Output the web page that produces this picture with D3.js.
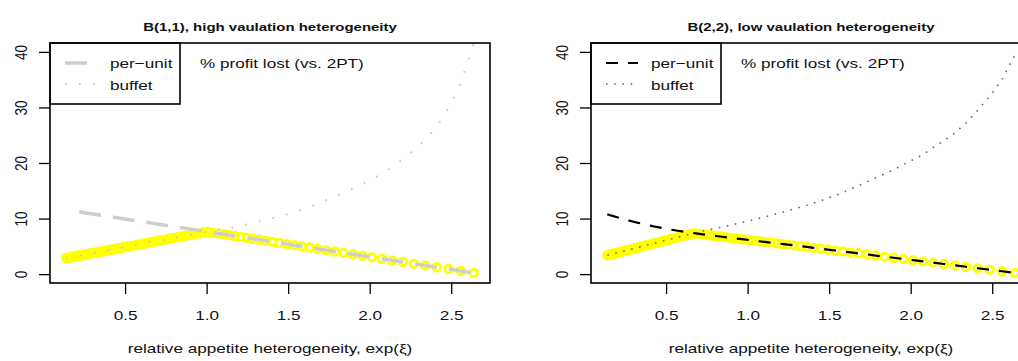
<!DOCTYPE html>
<html>
<head>
<meta charset="utf-8">
<script src="https://cdn.jsdelivr.net/npm/d3@7"></script>
<style>
  body { margin: 0; background: #fff; }
  text { font-family: "Liberation Sans", Arial, sans-serif; fill: #111; }
  .lbl { font-size: 13.5px; }
  .ttl { font-size: 11.8px; font-weight: bold; }
</style>
</head>
<body>
<div id="chart"></div>
<script>
// chart data
var titles = ["B(1,1), high vaulation heterogeneity", "B(2,2), low vaulation heterogeneity"];
var xLabel = "relative appetite heterogeneity, exp(\u03be)";
var legendNames = ["per\u2212unit", "buffet"];
var legendTitle = "% profit lost (vs. 2PT)";
var xTicks = [0.5, 1.0, 1.5, 2.0, 2.5];
var yTicks = [0, 10, 20, 30, 40];
var yLimits = [0, 40];

// relative appetite heterogeneity, exp(xi)
var xGrid = [
  0.1395,0.1437,0.1481,0.1526,0.1572,0.1620,0.1670,0.1720,0.1773,0.1827,
  0.1882,0.1940,0.1999,0.2060,0.2122,0.2187,0.2254,0.2322,0.2393,0.2466,
  0.2541,0.2618,0.2698,0.2780,0.2865,0.2952,0.3042,0.3135,0.3230,0.3329,
  0.3430,0.3535,0.3642,0.3753,0.3867,0.3985,0.4107,0.4232,0.4360,0.4493,
  0.4630,0.4771,0.4916,0.5066,0.5220,0.5379,0.5543,0.5712,0.5886,0.6065,
  0.6250,0.6440,0.6637,0.6839,0.7047,0.7261,0.7483,0.7711,0.7945,0.8187,
  0.8437,0.8694,0.8958,0.9231,0.9512,0.9802,1.0101,1.0408,1.0725,1.1052,
  1.1388,1.1735,1.2092,1.2461,1.2840,1.3231,1.3634,1.4049,1.4477,1.4918,
  1.5373,1.5841,1.6323,1.6820,1.7333,1.7860,1.8404,1.8965,1.9542,2.0138,
  2.0751,2.1383,2.2034,2.2705,2.3396,2.4109,2.4843,2.5600,2.6379
];

// B(1,1): % profit lost
var perUnitB11 = [
  null,null,null,null,null,null,null,null,null,null,
  null,null,null,null,null,11.20,11.17,11.14,11.10,11.07,
  11.04,11.00,10.96,10.93,10.89,10.85,10.81,10.77,10.72,10.68,
  10.63,10.58,10.54,10.49,10.43,10.38,10.33,10.27,10.21,10.15,
  10.09,10.02,9.96,9.89,9.82,9.75,9.67,9.60,9.52,9.44,
  9.35,9.27,9.18,9.08,8.99,8.89,8.79,8.69,8.58,8.47,
  8.36,8.24,8.12,8.00,7.87,7.74,7.60,7.46,7.32,7.17,
  7.02,6.86,6.70,6.53,6.36,6.18,6.00,5.81,5.62,5.42,
  5.21,5.00,4.78,4.55,4.32,4.08,3.83,3.58,3.32,3.05,
  2.77,2.48,2.19,1.88,1.57,1.24,0.91,0.57,0.21
];
var buffetB11 = [
  2.90,2.92,2.94,2.97,2.99,3.02,3.05,3.08,3.11,3.13,
  3.17,3.20,3.23,3.26,3.30,3.33,3.37,3.41,3.45,3.49,
  3.53,3.57,3.61,3.66,3.71,3.75,3.80,3.85,3.91,3.96,
  4.02,4.07,4.13,4.19,4.26,4.32,4.39,4.46,4.53,4.60,
  4.68,4.75,4.83,4.92,5.00,5.09,5.18,5.27,5.37,5.47,
  5.57,5.67,5.78,5.89,6.00,6.12,6.24,6.37,6.50,6.63,
  6.77,6.91,7.06,7.21,7.36,7.52,7.65,7.80,7.95,8.15,
  8.30,8.50,8.70,8.95,9.20,9.50,9.80,10.10,10.40,10.75,
  11.10,11.60,12.10,12.60,13.30,13.95,14.65,15.40,16.20,17.10,
  18.00,19.30,20.70,22.30,24.20,26.50,30.00,34.50,41.50
];

// B(2,2): % profit lost
var perUnitB22 = [
  10.75,10.72,10.68,10.64,10.60,10.56,10.52,10.48,10.43,10.38,
  10.34,10.29,10.24,10.19,10.14,10.09,10.03,9.98,9.92,9.86,
  9.80,9.74,9.67,9.61,9.54,9.47,9.41,9.34,9.27,9.20,
  9.13,9.05,8.98,8.91,8.83,8.76,8.68,8.60,8.53,8.45,
  8.37,8.29,8.21,8.13,8.05,7.97,7.89,7.81,7.73,7.65,
  7.57,7.49,7.41,7.33,7.25,7.16,7.08,6.99,6.90,6.81,
  6.72,6.62,6.53,6.43,6.34,6.24,6.13,6.02,5.91,5.79,
  5.68,5.56,5.44,5.31,5.17,5.03,4.89,4.73,4.58,4.42,
  4.25,4.08,3.90,3.72,3.54,3.34,3.14,2.94,2.73,2.51,
  2.29,2.06,1.82,1.57,1.32,1.06,0.79,0.51,0.23
];
var buffetB22 = [
  3.40,3.43,3.46,3.50,3.53,3.57,3.60,3.64,3.68,3.72,
  3.76,3.81,3.85,3.90,3.94,3.99,4.04,4.09,4.15,4.20,
  4.26,4.31,4.37,4.44,4.50,4.56,4.63,4.70,4.77,4.85,
  4.92,5.00,5.08,5.17,5.25,5.34,5.43,5.52,5.62,5.72,
  5.82,5.93,6.04,6.15,6.27,6.38,6.51,6.63,6.76,6.90,
  7.04,7.18,7.33,7.48,7.62,7.75,7.88,8.02,8.17,8.32,
  8.48,8.65,8.82,9.00,9.20,9.40,9.60,9.82,10.05,10.30,
  10.55,10.82,11.10,11.40,11.72,12.05,12.40,12.80,13.20,13.65,
  14.15,14.70,15.30,15.95,16.65,17.35,18.05,18.80,19.70,20.60,
  21.50,22.80,24.00,25.40,27.20,29.50,32.00,35.00,39.40
];

var svgWidth = 1018;
var svgHeight = 361;
var plotTop = 43, plotW = 440, plotH = 240;
var SX = 1.27; // text in the picture is stretched sideways

var panels = [
  { left: 50, title: titles[0], perUnit: perUnitB11, buffet: buffetB11,
    puColor: "#cdcdcd", puWidth: 3.5, puDash: "22,12",
    bfColor: "#c4c4c4", bfWidth: 2, bfDash: "1.6,12.4" },
  { left: 591, title: titles[1], perUnit: perUnitB22, buffet: buffetB22,
    puColor: "#000", puWidth: 2.2, puDash: "12,10",
    bfColor: "#6a6a6a", bfWidth: 1.6, bfDash: "1.6,6.6" }
];

var svg = d3.select("#chart")
  .append("svg")
  .attr("width", svgWidth)
  .attr("height", svgHeight);

svg.append("rect").attr("width", svgWidth).attr("height", svgHeight).attr("fill", "#fff");

// R style axis limits: data range plus 4% each side
var xExt = d3.extent(xGrid);
var xPad = 0.04 * (xExt[1] - xExt[0]);
var yPad = 0.04 * (yLimits[1] - yLimits[0]);

var xScale = d3.scaleLinear()
  .domain([xExt[0] - xPad, xExt[1] + xPad])
  .range([0, plotW]);
var yScale = d3.scaleLinear()
  .domain([yLimits[0] - yPad, yLimits[1] + yPad])
  .range([plotH, 0]);

function stretchText(g, x, y, txt, cls, anchor) {
  return g.append("text")
    .attr("class", cls)
    .attr("text-anchor", anchor || "start")
    .attr("transform", `translate(${x},${y}) scale(${SX},1)`)
    .text(txt);
}

panels.forEach(function(p, i) {
  var g = svg.append("g")
    .attr("transform", `translate(${p.left}, ${plotTop})`);

  var clipId = "clip" + i;
  g.append("clipPath").attr("id", clipId)
    .append("rect").attr("width", plotW).attr("height", plotH);

  var plot = g.append("g").attr("clip-path", `url(#${clipId})`);

  // yellow circles at the better of the two schemes
  var best = xGrid.map(function(x, k) {
    var vals = [p.perUnit[k], p.buffet[k]].filter(function(v) { return v != null; });
    return { x: x, y: d3.min(vals) };
  });

  plot.selectAll("circle")
    .data(best)
    .enter()
    .append("circle")
    .attr("cx", d => xScale(d.x))
    .attr("cy", d => yScale(d.y))
    .attr("r", 3.8)
    .attr("fill", "none")
    .attr("stroke", "#ffff00")
    .attr("stroke-width", 2.8);

  var line = d3.line()
    .defined(d => d[1] != null)
    .x(d => xScale(d[0]))
    .y(d => yScale(d[1]));

  plot.append("path")
    .datum(xGrid.map((x, k) => [x, p.buffet[k]]))
    .attr("d", line)
    .attr("fill", "none")
    .attr("stroke", p.bfColor)
    .attr("stroke-width", p.bfWidth)
    .attr("stroke-dasharray", p.bfDash);

  plot.append("path")
    .datum(xGrid.map((x, k) => [x, p.perUnit[k]]))
    .attr("d", line)
    .attr("fill", "none")
    .attr("stroke", p.puColor)
    .attr("stroke-width", p.puWidth)
    .attr("stroke-dasharray", p.puDash);

  // axes
  var xAxis = g.append("g")
    .attr("transform", `translate(0, ${plotH})`)
    .call(d3.axisBottom(xScale).tickValues(xTicks).tickSize(11).tickFormat(d3.format(".1f")));
  var yAxis = g.append("g")
    .call(d3.axisLeft(yScale).tickValues(yTicks).tickSize(11).tickFormat(d3.format("d")));

  [xAxis, yAxis].forEach(function(a) {
    a.attr("font-size", null).attr("font-family", null);
    a.select(".domain").remove();
    a.selectAll(".tick line").attr("stroke-width", 1.3);
  });

  xAxis.selectAll(".tick text")
    .attr("class", "lbl")
    .attr("y", null).attr("dy", null)
    .attr("text-anchor", "middle")
    .attr("transform", `translate(0, 37) scale(${SX},1)`);

  yAxis.selectAll(".tick text")
    .attr("class", "lbl")
    .attr("x", null).attr("dy", null)
    .attr("text-anchor", "middle")
    .attr("transform", `translate(-23.5, 0) scale(${SX},1) rotate(-90)`);

  // box
  g.append("rect")
    .attr("width", plotW).attr("height", plotH)
    .attr("fill", "none").attr("stroke", "#000").attr("stroke-width", 1.6);

  // legend
  g.append("rect")
    .attr("width", 130).attr("height", 61)
    .attr("fill", "none").attr("stroke", "#000").attr("stroke-width", 1.6);
  g.append("line")
    .attr("x1", 15).attr("x2", 47).attr("y1", 20).attr("y2", 20)
    .attr("stroke", p.puColor).attr("stroke-width", p.puWidth)
    .attr("stroke-dasharray", p.puDash);
  g.append("line")
    .attr("x1", 15).attr("x2", 47).attr("y1", 41).attr("y2", 41)
    .attr("stroke", p.bfColor).attr("stroke-width", p.bfWidth)
    .attr("stroke-dasharray", p.bfDash);
  stretchText(g, 60, 25, legendNames[0], "lbl");
  stretchText(g, 60, 47, legendNames[1], "lbl");
  stretchText(g, 150, 25, legendTitle, "lbl");

  // titles
  stretchText(g, plotW / 2, 31 - plotTop, p.title, "ttl", "middle");
  stretchText(g, plotW / 2, 353 - plotTop, xLabel, "lbl", "middle");
});
</script>
</body>
</html>
